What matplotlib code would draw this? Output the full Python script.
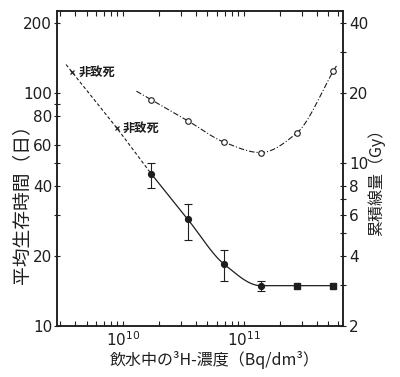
import numpy as np
import matplotlib
matplotlib.use('Agg')
import matplotlib.pyplot as plt
from matplotlib import font_manager
from matplotlib.ticker import FixedLocator, FixedFormatter, NullFormatter, LogLocator

# ---------------- data ----------------
dose = [1.72e10, 3.44e10, 6.88e10, 1.375e11, 2.75e11, 5.5e11]      # Bq/dm3
survival = [44.9, 28.7, 18.4, 14.9, 14.9, 14.9]                    # days (left axis)
surv_err_low = [39.0, 23.4, 15.6, 14.2]
surv_err_high = [50.2, 33.4, 21.2, 15.6]
nonlethal_dose = [3.8e9, 8.9e9]
nonlethal_survival = [123.0, 70.8]
nonlethal_label = "非致死"
cum_dose = [18.7, 15.2, 12.3, 11.1, 13.5, 24.9]                     # Gy (right axis)

left_major = [10, 20, 40, 60, 80, 100, 200]
left_minor = [30, 50, 90]
right_major = [2, 4, 6, 8, 10, 20, 40]
right_minor = [3, 5, 7, 30]
x_major = [1e10, 1e11]
x_major_labels = [r"$10^{10}$", r"$10^{11}$"]

xlabel = "飲水中の³H-濃度（Bq/dm³）"
ylabel_left = "平均生存時間（日）"
ylabel_right = "累積線量（Gy）"

# ---------------- fonts ----------------
avail = {f.name for f in font_manager.fontManager.ttflist}
num_font = 'Liberation Sans Narrow' if 'Liberation Sans Narrow' in avail else 'DejaVu Sans'
jp = ['Noto Sans CJK JP', 'DejaVu Sans']
plt.rcParams['font.family'] = [num_font, 'Noto Sans CJK JP', 'DejaVu Sans']
plt.rcParams['mathtext.fontset'] = 'custom'
plt.rcParams['mathtext.rm'] = num_font
plt.rcParams['mathtext.it'] = num_font
ink = '#1e1e1e'


def pchip_slopes(x, y):
    h = np.diff(x)
    d = np.diff(y) / h
    m = np.zeros_like(y)
    for k in range(1, len(x) - 1):
        if d[k - 1] * d[k] <= 0:
            m[k] = 0.0
        else:
            w1 = 2 * h[k] + h[k - 1]
            w2 = h[k] + 2 * h[k - 1]
            m[k] = (w1 + w2) / (w1 / d[k - 1] + w2 / d[k])
    m[0] = d[0]
    m[-1] = d[-1]
    return m


def hermite(x, y, m, xs):
    idx = np.clip(np.searchsorted(x, xs) - 1, 0, len(x) - 2)
    h = x[idx + 1] - x[idx]
    t = (xs - x[idx]) / h
    h00 = 2 * t**3 - 3 * t**2 + 1
    h10 = t**3 - 2 * t**2 + t
    h01 = -2 * t**3 + 3 * t**2
    h11 = t**3 - t**2
    return h00 * y[idx] + h10 * h * m[idx] + h01 * y[idx + 1] + h11 * h * m[idx + 1]


fig = plt.figure(figsize=(4.0, 3.77), dpi=100)
ax = fig.add_axes([57 / 400, 1 - 326 / 377, (343 - 57) / 400, (326 - 11) / 377])
ax.set_xscale('log')
ax.set_yscale('log')
ax.set_xlim(2.85e9, 6.6e11)
ax.set_ylim(10, 225)

lx = np.log10(dose)

# mean survival curve (solid)
ly = np.log10(survival)
ms = pchip_slopes(lx, ly)
xs = np.linspace(lx[0], lx[-1], 300)
ax.plot(10**xs, 10**hermite(lx, ly, ms, xs), color=ink, lw=0.9, zorder=3)
yerr = [np.array(survival[:4]) - np.array(surv_err_low),
        np.array(surv_err_high) - np.array(survival[:4])]
ax.errorbar(dose[:4], survival[:4], yerr=yerr, fmt='o', ms=4.2, color=ink,
            ecolor=ink, elinewidth=0.8, capsize=2.8, capthick=0.8, zorder=4)
ax.plot(dose[4:], survival[4:], 's', ms=4.0, color=ink, zorder=4)

# non-lethal dashed line
nx = np.log10(nonlethal_dose + dose[:1])
ny = np.log10(nonlethal_survival + survival[:1])
slope0 = (ny[1] - ny[0]) / (nx[1] - nx[0])
ext = 0.05
nx_line = np.concatenate([[nx[0] - ext], nx])
ny_line = np.concatenate([[ny[0] - ext * slope0], ny])
ax.plot(10**nx_line, 10**ny_line, color=ink, lw=0.8, ls=(0, (3.0, 2.0)), zorder=3)
ax.plot(nonlethal_dose, nonlethal_survival, 'x', ms=3.2, mew=0.9, color=ink, zorder=4)
for xd, yd in zip(nonlethal_dose, nonlethal_survival):
    ax.annotate(nonlethal_label, (xd, yd), xytext=(4.5, 0), textcoords='offset points',
                va='center', ha='left', fontsize=8.8, family=jp, fontweight='bold', color=ink)

# axis styling
for s in ax.spines.values():
    s.set_linewidth(1.1)
    s.set_color(ink)
ax.xaxis.set_major_locator(FixedLocator(x_major))
ax.xaxis.set_major_formatter(FixedFormatter(x_major_labels))
ax.xaxis.set_minor_locator(LogLocator(base=10, subs=np.arange(2, 10)))
ax.xaxis.set_minor_formatter(NullFormatter())
ax.tick_params(axis='x', which='both', direction='in', top=True, length=3.5, width=0.8,
               labelsize=11, pad=3, colors=ink)
ax.yaxis.set_major_locator(FixedLocator(left_major))
ax.yaxis.set_major_formatter(FixedFormatter([str(v) for v in left_major]))
ax.yaxis.set_minor_locator(FixedLocator(left_minor))
ax.yaxis.set_minor_formatter(NullFormatter())
ax.tick_params(axis='y', which='both', direction='inout', length=5, width=0.8,
               labelsize=11, pad=1, colors=ink)

# right axis (cumulative dose)
ax2 = ax.twinx()
ax2.set_yscale('log')
ax2.set_ylim(2, 45)
lc = np.log10(cum_dose)
mc = pchip_slopes(lx, lc)
xs2 = np.linspace(lx[0] - 0.124, lx[-1] + 0.025, 300)
ax2.plot(10**xs2, 10**hermite(lx, lc, mc, xs2), color=ink, lw=0.8,
         ls=(0, (5.0, 1.8, 1.0, 1.8)), zorder=3)
ax2.plot(dose, cum_dose, 'o', ms=4.0, mfc='white', mec=ink, mew=0.8, zorder=4)
ax2.yaxis.set_major_locator(FixedLocator(right_major))
ax2.yaxis.set_major_formatter(FixedFormatter([str(v) for v in right_major]))
ax2.yaxis.set_minor_locator(FixedLocator(right_minor))
ax2.yaxis.set_minor_formatter(NullFormatter())
ax2.tick_params(axis='y', which='both', direction='inout', length=5, width=0.8,
                labelsize=11, pad=2, colors=ink)
for s in ax2.spines.values():
    s.set_linewidth(1.1)
    s.set_color(ink)

# axis titles placed as in the reference
fig.text(215 / 400, 1 - 360 / 377, xlabel, family=jp, fontsize=11.5, color=ink,
         ha='center', va='center')
fig.text(22 / 400, 1 - 200 / 377, ylabel_left, family=jp, fontsize=13.5, color=ink,
         ha='center', va='center', rotation=90)
fig.text(376 / 400, 1 - 178 / 377, ylabel_right, family=jp, fontsize=11.5, color=ink,
         ha='center', va='center', rotation=90)

fig.savefig('out.png', dpi=100)
